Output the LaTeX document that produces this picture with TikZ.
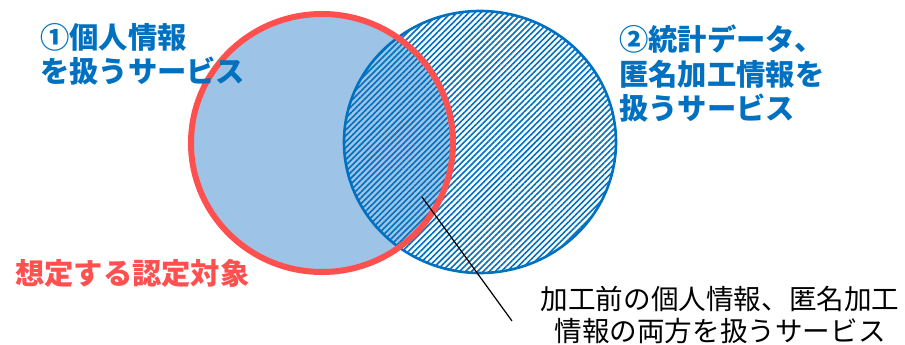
\documentclass[tikz,border=0pt]{standalone}
\usepackage{fontspec}
\setmainfont{Noto Sans CJK JP}
\usetikzlibrary{patterns.meta}
\definecolor{tblue}{HTML}{0070C0}
\definecolor{tred}{HTML}{FF5050}
\definecolor{lblue}{HTML}{9DC3E6}
\tikzset{
  bluelbl/.style={text=tblue, font=\fontsize{29.3}{34.5}\selectfont\bfseries, align=left, inner sep=0pt},
  redlbl/.style={text=tred, font=\fontsize{29.3}{34}\selectfont\bfseries, inner sep=0pt},
  blacklbl/.style={text=black, font=\fontsize{27.6}{32.5}\selectfont, align=center, inner sep=0pt},
}
\begin{document}
\begin{tikzpicture}[x=1pt,y=-1pt]
\useasboundingbox (0,0) rectangle (905,345);
% red circle fill
\fill[lblue] (322,143) ellipse [x radius=131, y radius=129];
% blue hatched circle
\path[pattern={Lines[angle=45,distance=4.2pt,line width=1.6pt]}, pattern color=tblue] (480,142) ellipse [x radius=136, y radius=131];
\draw[tblue, line width=2.6pt] (480,142) ellipse [x radius=136, y radius=131];
% red border
\draw[tred, line width=6pt] (322,143) ellipse [x radius=131, y radius=129];
% labels
\node[bluelbl, anchor=north west] (l1) at (40,23) {①個人情報\\を扱うサービス};
\node[bluelbl, anchor=north west] (l2) at (619,25) {②統計データ、\\匿名加工情報を\\扱うサービス};
\node[redlbl, anchor=west] (l3) at (15,273) {想定する認定対象};
\node[blacklbl] (l4) at (720,315) {加工前の個人情報、匿名加工\\情報の両方を扱うサービス};
\coordinate (p1) at (422,197);
\coordinate (p2) at (512,321);
\draw[black, line width=1.2pt] (p1) -- (p2);
\end{tikzpicture}
\end{document}
